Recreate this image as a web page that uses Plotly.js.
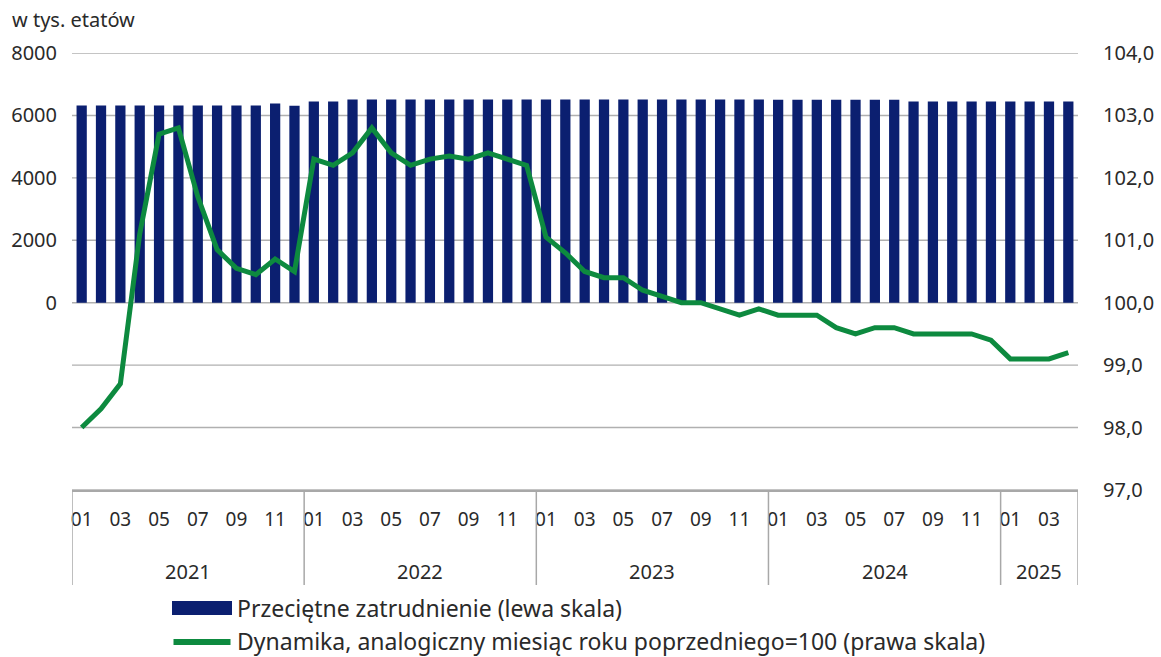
<!DOCTYPE html>
<html>
<head>
<meta charset="utf-8">
<script src="https://cdn.plot.ly/plotly-3.0.1.min.js"></script>
<style>html,body{margin:0;padding:0;background:#fff;}#chart{width:1161px;height:657px;}</style>
</head>
<body>
<div id="chart"></div>
<script>
// ---- data ----
const periods = [
  "2021-01","2021-02","2021-03","2021-04","2021-05","2021-06","2021-07","2021-08","2021-09","2021-10","2021-11","2021-12",
  "2022-01","2022-02","2022-03","2022-04","2022-05","2022-06","2022-07","2022-08","2022-09","2022-10","2022-11","2022-12",
  "2023-01","2023-02","2023-03","2023-04","2023-05","2023-06","2023-07","2023-08","2023-09","2023-10","2023-11","2023-12",
  "2024-01","2024-02","2024-03","2024-04","2024-05","2024-06","2024-07","2024-08","2024-09","2024-10","2024-11","2024-12",
  "2025-01","2025-02","2025-03","2025-04"
];
const employment = [
  6320,6320,6320,6320,6320,6320,6320,6320,6320,6320,6380,6310,
  6450,6450,6510,6510,6510,6510,6510,6510,6510,6510,6510,6510,
  6510,6510,6510,6510,6510,6510,6510,6510,6510,6510,6510,6510,
  6500,6500,6500,6500,6500,6500,6500,6450,6450,6450,6450,6450,
  6450,6450,6450,6450
];
const dynamics = [
  98.0,98.3,98.7,101.1,102.7,102.8,101.7,100.85,100.55,100.45,100.7,100.5,
  102.3,102.2,102.4,102.8,102.4,102.2,102.3,102.35,102.3,102.4,102.3,102.2,
  101.05,100.8,100.5,100.4,100.4,100.2,100.1,100.0,100.0,99.9,99.8,99.9,
  99.8,99.8,99.8,99.6,99.5,99.6,99.6,99.5,99.5,99.5,99.5,99.4,
  99.1,99.1,99.1,99.2
];
const monthTickVals = ["2021-01","2021-03","2021-05","2021-07","2021-09","2021-11",
  "2022-01","2022-03","2022-05","2022-07","2022-09","2022-11",
  "2023-01","2023-03","2023-05","2023-07","2023-09","2023-11",
  "2024-01","2024-03","2024-05","2024-07","2024-09","2024-11",
  "2025-01","2025-03"];
const monthTickText = ["01","03","05","07","09","11","01","03","05","07","09","11",
  "01","03","05","07","09","11","01","03","05","07","09","11","01","03"];
const yearLabels = ["2021","2022","2023","2024","2025"];
const leftTickVals = [0,2000,4000,6000,8000];
const leftTickText = ["0","2000","4000","6000","8000"];
const rightTickVals = [97,98,99,100,101,102,103,104];
const rightTickText = ["97,0","98,0","99,0","100,0","101,0","102,0","103,0","104,0"];
const seriesNames = ["Przeciętne zatrudnienie (lewa skala)",
  "Dynamika, analogiczny miesiąc roku poprzedniego=100 (prawa skala)"];

// ---- styling ----
const NAVY = "#0b1f70";
const GREEN = "#0d8a3f";
const GRID = "#b0b0b0";
const FONT = "Noto Sans";
const TXT = "#2a2a2a";

// year group boundaries (category index)
const groups = [];
yearLabels.forEach(y => {
  const idx = periods.map((p,i)=>p.startsWith(y)?i:-1).filter(i=>i>=0);
  groups.push({year:y, start:idx[0]-0.5, end:idx[idx.length-1]+0.5});
});

const ML = 72, MR = 83, MT = 53, MB = 167, W = 1161, H = 657;
const PH = H - MT - MB, PW = W - ML - MR;
const py = px => (H - MB - px) / PH;   // pixel y -> paper y
const pxX = px => (px - ML) / PW;      // pixel x -> paper x

const shapes = [];
// horizontal grid lines at right-axis ticks (drawn below traces)
rightTickVals.forEach(v => {
  shapes.push({type:"line", layer:"below", xref:"paper", yref:"y2", x0:0, x1:1, y0:v, y1:v,
    line:{color:GRID, width:1.4}});
});
groups.forEach(g => {
  shapes.push({type:"line", xref:"x", yref:"paper", x0:g.start, x1:g.start, y0:0, y1:py(585),
    line:{color:"#a8a8a8", width:1.5}});
});
shapes.push({type:"line", xref:"x", yref:"paper", x0:groups[groups.length-1].end, x1:groups[groups.length-1].end,
  y0:0, y1:py(585), line:{color:"#a8a8a8", width:1.5}});
// legend swatches
shapes.push({type:"rect", xref:"paper", yref:"paper", x0:pxX(172), x1:pxX(232), y0:py(615), y1:py(601),
  fillcolor:NAVY, line:{width:0}});
shapes.push({type:"line", xref:"paper", yref:"paper", x0:pxX(173.5), x1:pxX(230.5), y0:py(642), y1:py(642),
  line:{color:GREEN, width:6}});

const annotations = groups.map(g => ({
  xref:"x", yref:"paper", x:(g.start+g.end)/2, y:py(571), text:g.year, showarrow:false,
  font:{family:FONT, size:20, color:TXT}, xanchor:"center", yanchor:"middle"
}));
annotations.push({xref:"paper", yref:"paper", x:pxX(235), y:py(608), text:seriesNames[0], showarrow:false,
  xanchor:"left", yanchor:"middle", font:{family:FONT, size:23, color:TXT}});
annotations.push({xref:"paper", yref:"paper", x:pxX(235), y:py(641), text:seriesNames[1], showarrow:false,
  xanchor:"left", yanchor:"middle", font:{family:FONT, size:23, color:TXT}});

const traces = [
  {type:"bar", x:periods, y:employment, name:seriesNames[0], marker:{color:NAVY}, yaxis:"y", showlegend:false},
  {type:"scatter", mode:"lines", x:periods, y:dynamics, name:seriesNames[1], yaxis:"y2",
    line:{color:GREEN, width:5, shape:"linear"}, showlegend:false}
];

const layout = {
  width:W, height:H,
  margin:{l:ML, r:MR, t:MT, b:MB, pad:0},
  paper_bgcolor:"#fff", plot_bgcolor:"#fff",
  font:{family:FONT, size:19, color:TXT},
  title:{text:"w tys. etatów", x:12/W, xanchor:"left", xref:"container", y:1-20/H, yanchor:"middle", yref:"container",
    font:{family:FONT, size:20, color:TXT}},
  bargap:0.47,
  showlegend:false,
  xaxis:{type:"category", categoryorder:"array", categoryarray:periods, range:[-0.5, periods.length-0.5],
    tickmode:"array", tickvals:monthTickVals, ticktext:monthTickText, ticks:"", showgrid:false,
    showline:true, linecolor:"#a8a8a8", linewidth:1.5, zeroline:false, ticklabelstandoff:12,
    tickfont:{family:FONT, size:19, color:TXT}},
  yaxis:{range:[-6000, 8000], tickmode:"array", tickvals:leftTickVals, ticktext:leftTickText,
    showgrid:false, zeroline:false, showline:false, ticks:"",
    ticklabelstandoff:14, tickfont:{family:FONT, size:20, color:TXT}},
  yaxis2:{range:[97, 104], overlaying:"y", side:"right", tickmode:"array", tickvals:rightTickVals,
    ticktext:rightTickText, showgrid:false, zeroline:false, showline:false, ticks:"", ticklabelstandoff:24,
    tickfont:{family:FONT, size:20, color:TXT}},
  shapes:shapes,
  annotations:annotations
};

Plotly.newPlot("chart", traces, layout, {displayModeBar:false, staticPlot:true});
</script>
</body>
</html>
